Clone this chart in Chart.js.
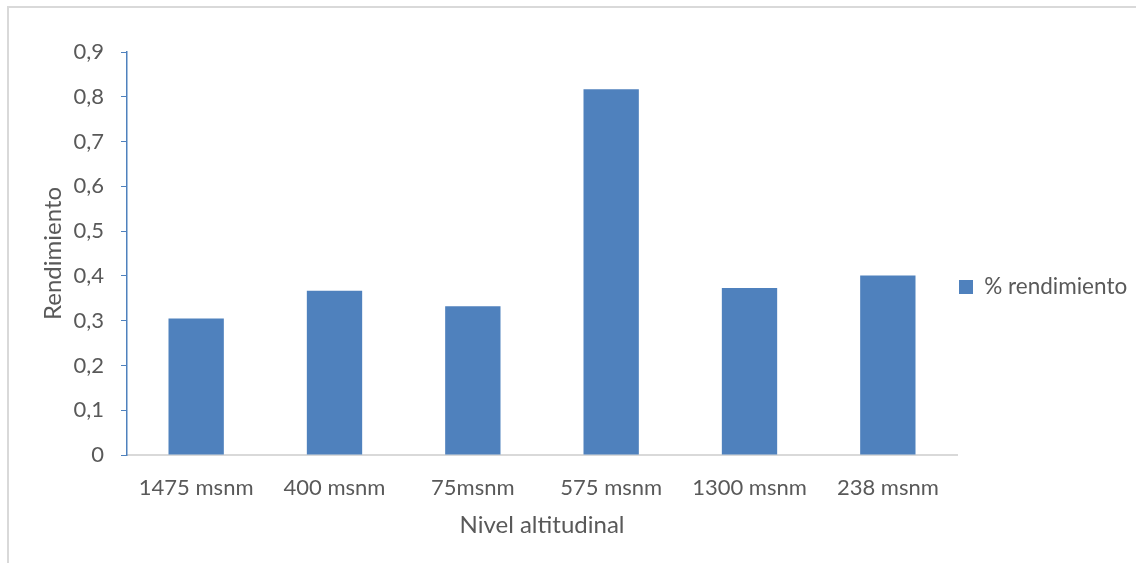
<!DOCTYPE html>
<html>
<head>
<meta charset="utf-8">
<script src="https://cdn.jsdelivr.net/npm/chart.js@4"></script>
<style>
  html, body { margin: 0; padding: 0; background: #ffffff; }
  #wrap { width: 1136px; height: 563px; }
</style>
</head>
<body>
<div id="wrap"><canvas id="c" width="1136" height="563"></canvas></div>
<script>
// Rendimiento por nivel altitudinal
const categories = ['1475 msnm', '400 msnm', '75msnm', '575 msnm', '1300 msnm', '238 msnm'];
const rendimiento = [0.305, 0.367, 0.332, 0.817, 0.373, 0.401];
const seriesName = '% rendimiento';
const yTicks = [0, 0.1, 0.2, 0.3, 0.4, 0.5, 0.6, 0.7, 0.8, 0.9];
const xTitle = 'Nivel altitudinal';
const yTitle = 'Rendimiento';

const FONT = 'Lato, "Open Sans", sans-serif';
const TEXT = '#595959';
const BLUE = '#4f81bd';

// white background plus the light frame on the top and left edges
const frame = {
  id: 'frame',
  beforeDraw(chart) {
    const ctx = chart.ctx;
    ctx.save();
    ctx.fillStyle = '#ffffff';
    ctx.fillRect(0, 0, chart.width, chart.height);
    ctx.strokeStyle = '#d9d9d9';
    ctx.lineWidth = 2;
    ctx.beginPath();
    ctx.moveTo(8, chart.height);
    ctx.lineTo(8, 7);
    ctx.lineTo(chart.width, 7);
    ctx.stroke();
    ctx.restore();
  }
};

// move the legend block next to the plot, slightly above the page centre
const legendPlace = {
  id: 'legendPlace',
  afterLayout(chart) {
    const lg = chart.legend;
    if (!lg) return;
    const dx = -8;
    const dy = 287 - (lg.top + lg.bottom) / 2;
    lg.left += dx; lg.right += dx;
    lg.top += dy; lg.bottom += dy;
  }
};

new Chart(document.getElementById('c'), {
  type: 'bar',
  data: {
    labels: categories,
    datasets: [{
      label: seriesName,
      data: rendimiento,
      backgroundColor: BLUE,
      borderWidth: 0,
      categoryPercentage: 1.0,
      barPercentage: 0.4
    }]
  },
  options: {
    responsive: false,
    animation: false,
    devicePixelRatio: 1,
    layout: { padding: { top: 52, left: 0, right: 0, bottom: 20 } },
    plugins: {
      legend: {
        position: 'right',
        align: 'center',
        maxWidth: 179,
        labels: {
          boxWidth: 14,
          boxHeight: 14,
          padding: 10,
          color: TEXT,
          font: { family: FONT, size: 22.5 }
        }
      },
      tooltip: { enabled: false }
    },
    scales: {
      x: {
        grid: { display: false, drawTicks: false },
        border: { display: true, color: '#d9d9d9', width: 2 },
        ticks: {
          color: TEXT,
          padding: 20,
          maxRotation: 0,
          autoSkip: false,
          font: { family: FONT, size: 22 }
        },
        title: {
          display: true,
          text: xTitle,
          color: TEXT,
          padding: { top: 0, bottom: 3.6 },
          font: { family: FONT, size: 24 }
        },
        afterFit(scale) { scale.height = 563 - 20 - 455; }
      },
      y: {
        min: 0,
        max: 0.9,
        afterBuildTicks(scale) { scale.ticks = yTicks.map(v => ({ value: v })); },
        grid: {
          display: true,
          drawOnChartArea: false,
          drawTicks: true,
          tickLength: 6,
          color: BLUE,
          lineWidth: 1
        },
        border: { display: true, color: BLUE, width: 1.5 },
        ticks: {
          color: TEXT,
          padding: 17,
          font: { family: FONT, size: 22 },
          callback: v => (v === 0 ? '0' : v.toFixed(1).replace('.', ','))
        },
        title: {
          display: true,
          text: yTitle,
          color: TEXT,
          padding: { top: 38.6, bottom: 0 },
          font: { family: FONT, size: 24 }
        },
        afterFit(scale) { scale.width = 127; }
      }
    }
  },
  plugins: [frame, legendPlace]
});
</script>
</body>
</html>
